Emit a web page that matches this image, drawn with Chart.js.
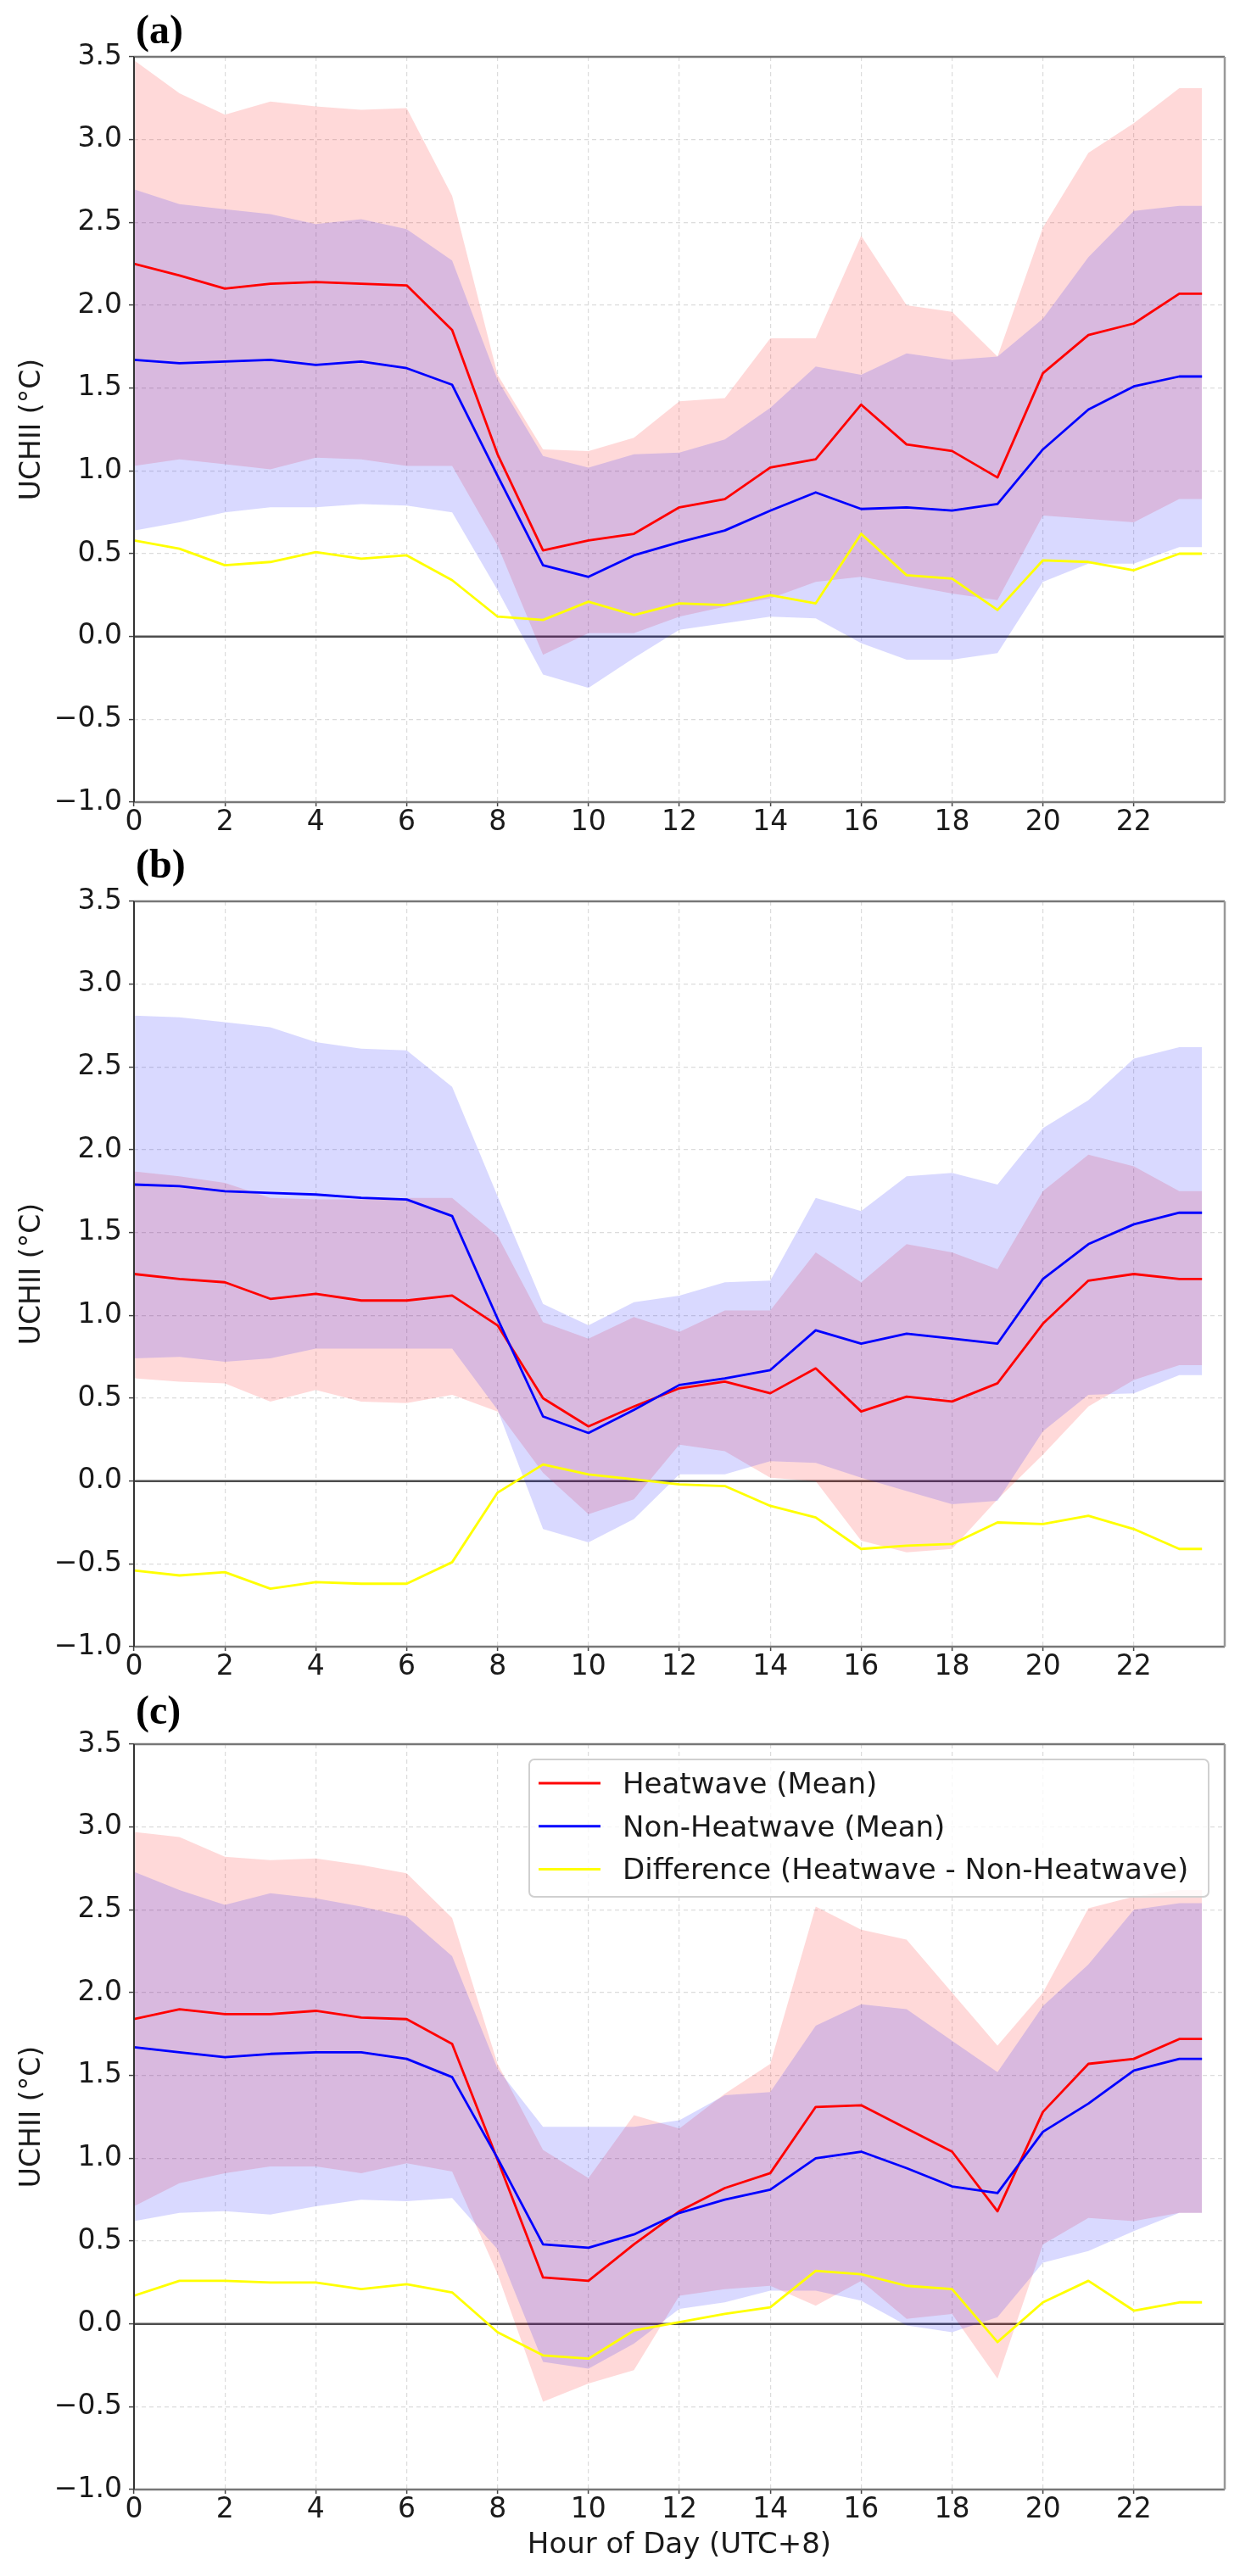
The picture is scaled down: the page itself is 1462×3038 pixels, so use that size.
<!DOCTYPE html>
<html>
<head>
<meta charset="utf-8">
<title>UCHII diurnal cycle</title>
<script src="https://cdn.jsdelivr.net/npm/chart.js@4.4.1/dist/chart.umd.min.js"></script>
<style>
  html, body { margin: 0; padding: 0; background: #fff; }
  #wrap { position: relative; width: 1462px; height: 3038px; }
  #wrap canvas { position: absolute; left: 0; }
</style>
</head>
<body>
<div id="wrap">
  <canvas id="panelA" width="1462" height="1010" style="top:0px"></canvas>
  <canvas id="panelB" width="1462" height="1010" style="top:996px"></canvas>
  <canvas id="panelC" width="1462" height="1048" style="top:1990px"></canvas>
</div>
<script>
// hours of day (last point repeats hour 23 out to 23.5)
const HOURS = [0, 1, 2, 3, 4, 5, 6, 7, 8, 9, 10, 11, 12, 13, 14, 15, 16, 17, 18, 19, 20, 21, 22, 23, 23.5];
const X_TICKS = [0, 2, 4, 6, 8, 10, 12, 14, 16, 18, 20, 22];
const Y_TICKS = [-1, -0.5, 0, 0.5, 1, 1.5, 2, 2.5, 3, 3.5];
const LABELS = ['Heatwave (Mean)', 'Non-Heatwave (Mean)', 'Difference (Heatwave - Non-Heatwave)'];

// panel (a)
const aHeatMean  = [2.25, 2.18, 2.10, 2.13, 2.14, 2.13, 2.12, 1.85, 1.10, 0.52, 0.58, 0.62, 0.78, 0.83, 1.02, 1.07, 1.40, 1.16, 1.12, 0.96, 1.59, 1.82, 1.89, 2.07, 2.07];
const aNonMean   = [1.67, 1.65, 1.66, 1.67, 1.64, 1.66, 1.62, 1.52, 0.97, 0.43, 0.36, 0.49, 0.57, 0.64, 0.76, 0.87, 0.77, 0.78, 0.76, 0.80, 1.13, 1.37, 1.51, 1.57, 1.57];
const aDiff      = [0.58, 0.53, 0.43, 0.45, 0.51, 0.47, 0.49, 0.34, 0.12, 0.10, 0.21, 0.13, 0.20, 0.19, 0.25, 0.20, 0.62, 0.37, 0.35, 0.16, 0.46, 0.45, 0.40, 0.50, 0.50];
const aHeatUpper = [3.48, 3.28, 3.15, 3.23, 3.20, 3.18, 3.19, 2.66, 1.58, 1.13, 1.12, 1.20, 1.42, 1.44, 1.80, 1.80, 2.42, 2.00, 1.96, 1.69, 2.47, 2.92, 3.10, 3.31, 3.31];
const aHeatLower = [1.03, 1.07, 1.04, 1.01, 1.08, 1.07, 1.03, 1.03, 0.55, -0.11, 0.02, 0.02, 0.12, 0.18, 0.23, 0.33, 0.36, 0.31, 0.26, 0.22, 0.73, 0.71, 0.69, 0.83, 0.83];
const aNonUpper  = [2.70, 2.61, 2.58, 2.55, 2.49, 2.52, 2.46, 2.27, 1.55, 1.09, 1.02, 1.10, 1.11, 1.19, 1.38, 1.63, 1.58, 1.71, 1.67, 1.69, 1.92, 2.29, 2.57, 2.60, 2.60];
const aNonLower  = [0.64, 0.69, 0.75, 0.78, 0.78, 0.80, 0.79, 0.75, 0.28, -0.23, -0.31, -0.13, 0.04, 0.08, 0.12, 0.11, -0.04, -0.14, -0.14, -0.10, 0.33, 0.44, 0.44, 0.54, 0.54];

// panel (b)
const bHeatMean  = [1.25, 1.22, 1.20, 1.10, 1.13, 1.09, 1.09, 1.12, 0.94, 0.50, 0.33, 0.45, 0.56, 0.60, 0.53, 0.68, 0.42, 0.51, 0.48, 0.59, 0.95, 1.21, 1.25, 1.22, 1.22];
const bNonMean   = [1.79, 1.78, 1.75, 1.74, 1.73, 1.71, 1.70, 1.60, 0.98, 0.39, 0.29, 0.43, 0.58, 0.62, 0.67, 0.91, 0.83, 0.89, 0.86, 0.83, 1.22, 1.43, 1.55, 1.62, 1.62];
const bDiff      = [-0.54, -0.57, -0.55, -0.65, -0.61, -0.62, -0.62, -0.49, -0.07, 0.10, 0.04, 0.01, -0.02, -0.03, -0.15, -0.22, -0.41, -0.39, -0.38, -0.25, -0.26, -0.21, -0.29, -0.41, -0.41];
const bHeatUpper = [1.87, 1.84, 1.80, 1.71, 1.70, 1.70, 1.71, 1.71, 1.48, 0.96, 0.86, 0.99, 0.90, 1.03, 1.03, 1.38, 1.20, 1.43, 1.38, 1.28, 1.75, 1.97, 1.90, 1.75, 1.75];
const bHeatLower = [0.62, 0.60, 0.59, 0.48, 0.55, 0.48, 0.47, 0.52, 0.42, 0.05, -0.20, -0.11, 0.22, 0.18, 0.02, 0.00, -0.36, -0.43, -0.41, -0.11, 0.16, 0.45, 0.61, 0.70, 0.70];
const bNonUpper  = [2.81, 2.80, 2.77, 2.74, 2.65, 2.61, 2.60, 2.38, 1.72, 1.07, 0.94, 1.08, 1.12, 1.20, 1.21, 1.71, 1.63, 1.84, 1.86, 1.79, 2.13, 2.30, 2.55, 2.62, 2.62];
const bNonLower  = [0.74, 0.75, 0.72, 0.74, 0.80, 0.80, 0.80, 0.80, 0.43, -0.29, -0.37, -0.23, 0.04, 0.04, 0.12, 0.11, 0.02, -0.06, -0.14, -0.12, 0.30, 0.52, 0.53, 0.64, 0.64];

// panel (c)
const cHeatMean  = [1.84, 1.90, 1.87, 1.87, 1.89, 1.85, 1.84, 1.69, 0.99, 0.28, 0.26, 0.48, 0.68, 0.82, 0.91, 1.31, 1.32, 1.18, 1.04, 0.68, 1.28, 1.57, 1.60, 1.72, 1.72];
const cNonMean   = [1.67, 1.64, 1.61, 1.63, 1.64, 1.64, 1.60, 1.49, 1.00, 0.48, 0.46, 0.54, 0.67, 0.75, 0.81, 1.00, 1.04, 0.94, 0.83, 0.79, 1.16, 1.33, 1.53, 1.60, 1.60];
const cDiff      = [0.17, 0.26, 0.26, 0.25, 0.25, 0.21, 0.24, 0.19, -0.05, -0.19, -0.21, -0.04, 0.01, 0.06, 0.10, 0.32, 0.30, 0.23, 0.21, -0.11, 0.13, 0.26, 0.08, 0.13, 0.13];
const cHeatUpper = [2.97, 2.94, 2.82, 2.80, 2.81, 2.77, 2.72, 2.45, 1.57, 1.05, 0.88, 1.26, 1.18, 1.39, 1.57, 2.52, 2.38, 2.32, 2.00, 1.68, 2.00, 2.51, 2.58, 2.62, 2.62];
const cHeatLower = [0.71, 0.85, 0.91, 0.95, 0.95, 0.91, 0.97, 0.92, 0.30, -0.47, -0.36, -0.28, 0.17, 0.21, 0.23, 0.11, 0.26, 0.03, 0.06, -0.33, 0.48, 0.64, 0.62, 0.67, 0.67];
const cNonUpper  = [2.73, 2.62, 2.53, 2.60, 2.57, 2.52, 2.46, 2.22, 1.54, 1.19, 1.19, 1.19, 1.23, 1.38, 1.40, 1.80, 1.93, 1.90, 1.71, 1.52, 1.92, 2.17, 2.50, 2.54, 2.54];
const cNonLower  = [0.62, 0.67, 0.68, 0.66, 0.71, 0.75, 0.74, 0.76, 0.45, -0.23, -0.27, -0.12, 0.09, 0.13, 0.20, 0.20, 0.14, -0.01, -0.05, 0.04, 0.37, 0.44, 0.56, 0.67, 0.67];

const FONT = 'DejaVu Sans';
const TEXT = '#1a1a1a';
Chart.defaults.font.family = FONT;

const pts = vals => HOURS.map((h, i) => ({ x: h, y: vals[i] }));

function band(vals, color, fill, order) {
  return {
    data: pts(vals), fill: fill, backgroundColor: color,
    borderColor: 'rgba(0,0,0,0)', borderWidth: 0, pointRadius: 0, order: order
  };
}

function line(label, vals, color, order) {
  return {
    label: label, data: pts(vals), fill: false, inLegend: true,
    borderColor: color, borderWidth: 2.8, borderJoinStyle: 'round',
    pointRadius: 0, order: order
  };
}

// zero line, frame, panel letter and (for c) the legend
const panelDecor = {
  id: 'panelDecor',
  beforeDatasetsDraw(chart) {
    const { ctx, chartArea: a } = chart;
    const y0 = chart.scales.y.getPixelForValue(0);
    ctx.save();
    ctx.strokeStyle = '#4d4d4d';
    ctx.lineWidth = 2.5;
    ctx.beginPath();
    ctx.moveTo(a.left, y0);
    ctx.lineTo(a.right, y0);
    ctx.stroke();
    ctx.restore();
  },
  afterDatasetsDraw(chart) {
    const { ctx, chartArea: a } = chart;
    const side = (x1, y1, x2, y2, color, w) => {
      ctx.strokeStyle = color;
      ctx.lineWidth = w;
      ctx.beginPath();
      ctx.moveTo(x1, y1);
      ctx.lineTo(x2, y2);
      ctx.stroke();
    };
    ctx.save();
    side(a.left, a.top, a.right, a.top, '#777', 2.5);
    side(a.left, a.bottom, a.right, a.bottom, '#777', 2.5);
    side(a.right, a.top, a.right, a.bottom, '#999', 2.5);
    side(a.left, a.top, a.left, a.bottom, '#333', 2);
    ctx.restore();
  },
  afterDraw(chart, args, opts) {
    const { ctx, chartArea: a } = chart;
    ctx.save();
    ctx.fillStyle = '#000';
    ctx.font = 'bold 48px "Liberation Serif"';
    ctx.textBaseline = 'alphabetic';
    ctx.textAlign = 'left';
    ctx.fillText(opts.label, a.left + 2, a.top - opts.labelGap);

    if (opts.legend) {
      const bw = 801, bh = 162;
      const bx = a.right - 19 - bw, by = a.top + 18;
      ctx.beginPath();
      ctx.roundRect(bx, by, bw, bh, 6);
      ctx.fillStyle = 'rgba(255,255,255,0.8)';
      ctx.fill();
      ctx.strokeStyle = '#d0d0d0';
      ctx.lineWidth = 2;
      ctx.stroke();
      ctx.font = '34px "' + FONT + '"';
      chart.data.datasets.filter(d => d.inLegend).forEach((d, i) => {
        const ry = by + 28 + i * 50.7;
        ctx.strokeStyle = d.borderColor;
        ctx.lineWidth = 3;
        ctx.beginPath();
        ctx.moveTo(bx + 11, ry);
        ctx.lineTo(bx + 84, ry);
        ctx.stroke();
        ctx.fillStyle = TEXT;
        ctx.fillText(d.label, bx + 110, ry + 12);
      });
    }
    ctx.restore();
  }
};

function makePanel(id, p) {
  return new Chart(document.getElementById(id), {
    type: 'line',
    data: {
      datasets: [
        band(p.heatUpper, 'rgba(255,0,0,0.15)', '+1', 6),
        band(p.heatLower, 'rgba(0,0,0,0)', false, 6),
        band(p.nonUpper, 'rgba(0,0,255,0.15)', '+1', 4),
        band(p.nonLower, 'rgba(0,0,0,0)', false, 4),
        line(LABELS[0], p.heat, '#ff0000', 2),
        line(LABELS[1], p.non, '#0000ff', 1),
        line(LABELS[2], p.diff, '#ffff00', 0)
      ]
    },
    options: {
      responsive: false,
      animation: false,
      events: [],
      layout: { padding: { top: 67, right: 18, left: 0, bottom: 0 } },
      elements: { line: { tension: 0 }, point: { radius: 0 } },
      plugins: {
        legend: { display: false },
        tooltip: { enabled: false },
        panelDecor: { label: p.label, labelGap: p.labelGap, legend: p.legend }
      },
      scales: {
        x: {
          type: 'linear', min: 0, max: 24,
          afterBuildTicks: s => { s.ticks = X_TICKS.map(v => ({ value: v })); },
          afterFit: s => { s.height = p.xHeight; },
          ticks: { font: { size: 33, lineHeight: 1 }, color: TEXT, padding: 3, maxRotation: 0 },
          grid: { color: '#dcdcdc', lineWidth: 1.2, tickLength: 5, tickColor: '#444', tickWidth: 1.5, tickBorderDash: [] },
          border: { display: false, dash: [5, 4] },
          title: {
            display: p.xTitle, text: 'Hour of Day (UTC+8)', color: TEXT,
            font: { size: 34 }, padding: { top: 0, bottom: 15 }
          }
        },
        y: {
          min: -1, max: 3.5,
          afterBuildTicks: s => { s.ticks = Y_TICKS.map(v => ({ value: v })); },
          afterFit: s => { s.width = 158; },
          ticks: {
            font: { size: 33 }, color: TEXT, padding: 8,
            callback: v => v.toFixed(1).replace('-', '\u2212')
          },
          grid: { color: '#dcdcdc', lineWidth: 1.2, tickLength: 6, tickColor: '#444', tickWidth: 1.5, tickBorderDash: [] },
          border: { display: false, dash: [5, 4] },
          title: {
            display: true, text: 'UCHII (°C)', color: TEXT,
            font: { size: 33 }, padding: { top: 19, bottom: 0 }
          }
        }
      }
    },
    plugins: [panelDecor]
  });
}

makePanel('panelA', {
  heat: aHeatMean, non: aNonMean, diff: aDiff,
  heatUpper: aHeatUpper, heatLower: aHeatLower, nonUpper: aNonUpper, nonLower: aNonLower,
  label: '(a)', labelGap: 16, legend: false, xTitle: false, xHeight: 64
});
makePanel('panelB', {
  heat: bHeatMean, non: bNonMean, diff: bDiff,
  heatUpper: bHeatUpper, heatLower: bHeatLower, nonUpper: bNonUpper, nonLower: bNonLower,
  label: '(b)', labelGap: 28, legend: false, xTitle: false, xHeight: 64
});
makePanel('panelC', {
  heat: cHeatMean, non: cNonMean, diff: cDiff,
  heatUpper: cHeatUpper, heatLower: cHeatLower, nonUpper: cNonUpper, nonLower: cNonLower,
  label: '(c)', labelGap: 24, legend: true, xTitle: true, xHeight: 102
});
</script>
</body>
</html>
